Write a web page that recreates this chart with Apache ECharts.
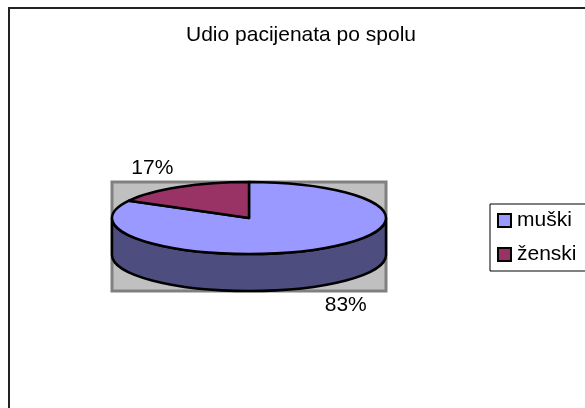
<!DOCTYPE html>
<html><head><meta charset="utf-8">
<style>html,body{margin:0;padding:0;background:#fff}#c{width:585px;height:408px}</style>
<script src="https://cdn.jsdelivr.net/npm/echarts@6/dist/echarts.min.js"></script>
</head><body><div id="c"></div>
<script>
const titleText = 'Udio pacijenata po spolu';
const categories = ['muški', 'ženski'];
const values = [83, 17];
const colors = ['#9999ff', '#993366'];
const wallColor = '#4d4d80';

const total = values.reduce((a, b) => a + b, 0);
const DEPTH = 37, TOP_RY = 36;
const FONT = '"Liberation Sans", Arial, sans-serif';

function sliceRange(i) {
  let s = 0;
  for (let k = 0; k < i; k++) s += values[k];
  return [s / total * 360, (s + values[i]) / total * 360];
}

function renderSlice(i) {
  return function (params, api) {
    const c0 = api.coord([-1, 1]);
    const c1 = api.coord([1, -1]);
    const cx = (c0[0] + c1[0]) / 2;
    const rx = (c1[0] - c0[0]) / 2;
    const cy = c0[1] + TOP_RY;
    const ry = TOP_RY;
    const pt = (deg, dy) => {
      const t = deg * Math.PI / 180;
      return [cx + rx * Math.sin(t), cy - ry * Math.cos(t) + (dy || 0)];
    };
    const [a, b] = sliceRange(i);
    const children = [];
    const stroke = { stroke: '#000', lineWidth: 2.5, lineJoin: 'round' };
    const wa = Math.max(a, 90), wb = Math.min(b, 270);
    if (wb > wa) {
      const p1 = pt(wa), p2 = pt(wb), q1 = pt(wa, DEPTH), q2 = pt(wb, DEPTH);
      children.push({
        type: 'path',
        shape: {
          pathData: `M${p1} L${q1} A${rx} ${ry} 0 ${wb - wa > 180 ? 1 : 0} 1 ${q2} L${p2} A${rx} ${ry} 0 ${wb - wa > 180 ? 1 : 0} 0 ${p1} Z`
        },
        style: Object.assign({ fill: wallColor }, stroke)
      });
    }
    const A = pt(a), B = pt(b);
    children.push({
      type: 'path',
      shape: {
        pathData: `M${cx},${cy} L${A} A${rx} ${ry} 0 ${b - a > 180 ? 1 : 0} 1 ${B} Z`
      },
      style: Object.assign({ fill: colors[i] }, stroke)
    });
    const mid = (a + b) / 2 * Math.PI / 180;
    const front = Math.cos(mid) < 0;
    children.push({
      type: 'text',
      style: {
        x: cx + 190 * Math.sin(mid),
        y: cy - 58 * Math.cos(mid) + (front ? DEPTH : 0),
        text: Math.round(values[i] / total * 100) + '%',
        fill: '#000',
        font: '21px ' + FONT,
        align: 'center',
        verticalAlign: 'middle'
      }
    });
    return { type: 'group', children };
  };
}

const chart = echarts.init(document.getElementById('c'), null, { renderer: 'canvas' });
chart.setOption({
  animation: false,
  backgroundColor: '#fff',
  title: {
    text: titleText,
    left: 296, top: 20, textAlign: 'center',
    textStyle: { fontFamily: FONT, fontSize: 21, fontWeight: 'normal', color: '#000' }
  },
  graphic: [
    { type: 'line', silent: true, shape: { x1: 8, y1: 8, x2: 585, y2: 8 }, style: { stroke: '#222', lineWidth: 2 } },
    { type: 'line', silent: true, shape: { x1: 9, y1: 7, x2: 9, y2: 408 }, style: { stroke: '#222', lineWidth: 2 } }
  ],
  legend: {
    data: categories,
    left: 490, top: 204,
    orient: 'vertical',
    padding: [6, 120, 6, 7],
    itemGap: 13,
    itemWidth: 13, itemHeight: 13,
    icon: 'rect',
    backgroundColor: '#fff',
    borderColor: '#000', borderWidth: 1,
    selectedMode: false,
    textStyle: { fontFamily: FONT, fontSize: 21, color: '#000', padding: [0, 0, 0, 1] },
    itemStyle: { borderColor: '#000', borderWidth: 2 }
  },
  grid: {
    show: true, left: 112, top: 182, width: 274, height: 109,
    backgroundColor: '#c0c0c0', borderColor: '#808080', borderWidth: 3
  },
  xAxis: { type: 'value', min: -1, max: 1, show: false },
  yAxis: { type: 'value', min: -1, max: 1, show: false },
  series: categories.map((name, i) => ({
    type: 'custom',
    name,
    coordinateSystem: 'cartesian2d',
    clip: false,
    silent: true,
    itemStyle: { color: colors[i] },
    data: [[0, 0, values[i]]],
    renderItem: renderSlice(i)
  }))
});
</script></body></html>
